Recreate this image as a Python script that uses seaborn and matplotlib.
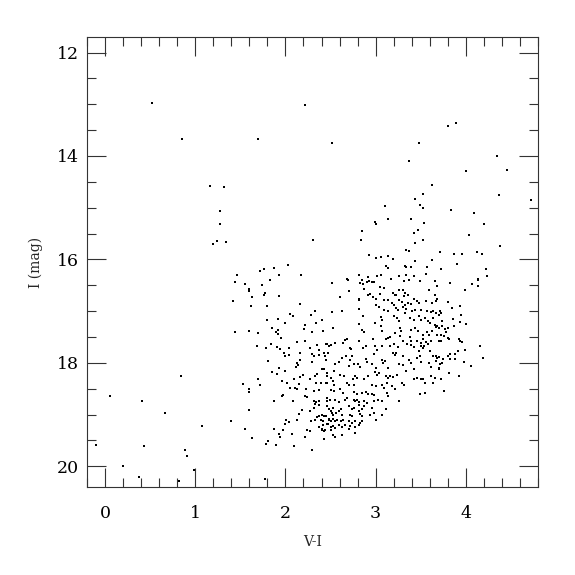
import pandas as pd
import matplotlib
matplotlib.use("Agg")
import matplotlib.pyplot as plt
import seaborn as sns
from matplotlib.ticker import MultipleLocator

# colour index V-I and I magnitude of each star
vi = [
    0.52, 0.85, 2.22, 1.70, 2.52,
    3.80, 3.89, 3.48, 3.37, 4.35, 4.00, 4.46, 3.62, 3.53, 3.44, 4.37, 3.49, 3.53, 3.84, 4.72,
    4.09, 3.39, 3.54, 4.20, 3.47, 3.43, 4.04, 3.53, 3.44, 4.38, 3.34, 3.37, 3.71, 3.87, 3.96,
    4.12, 4.18, 3.62, 3.44, 3.90, 3.32, 3.34, 3.39, 3.57, 3.72, 4.22, 3.34, 3.42, 3.56, 4.23, 4.14,
    1.16, 1.32, 1.27, 1.27, 1.20, 1.24, 1.34, 1.46, 1.44, 1.42, 1.44, 0.84, 0.06,
    0.41, 0.66, 1.07, 1.40, 1.60, 1.55, 1.63, 1.78, 1.81, 1.89, 1.87, 1.93, -0.10, 0.43, 0.89,
    0.91, 0.20, 0.99, 0.38, 0.82, 1.77,
    2.30, 2.84, 2.85, 2.99, 3.00, 3.10, 3.14,
    1.94, 1.97, 2.07, 2.09, 2.22, 2.24, 2.27, 2.43, 2.43, 2.29, 2.55,
    2.03, 1.87, 1.76, 1.72, 1.93, 2.17, 1.83, 1.55, 1.74, 1.60, 1.60, 1.77, 1.76, 1.63, 1.93,
    1.62, 1.80, 2.16, 2.33, 2.28, 2.05, 2.08, 1.92, 1.80, 2.00, 2.40, 2.34, 2.22, 1.85, 1.92,
    1.89, 2.21, 1.60, 1.70, 1.92, 2.29, 2.42, 1.95, 2.13, 2.22, 1.84, 1.69, 1.78, 1.91, 1.94,
    2.04, 2.27, 2.35, 2.45, 2.48,
    1.98, 2.00, 2.04, 2.16, 2.29, 2.32, 2.37, 2.43, 2.44, 2.37, 1.81, 2.16, 2.13, 2.14, 2.12,
    2.29, 2.45, 1.93, 1.85, 1.91, 2.00, 2.19, 2.16, 2.27, 2.35, 2.33, 2.46, 1.70, 1.53, 1.72,
    1.96, 2.02, 2.09, 2.15, 2.34, 2.39, 2.46, 1.60, 1.60, 2.05, 2.11, 2.13, 2.23, 2.32, 2.37,
    1.97, 1.96, 2.22, 2.24, 2.08, 2.32, 2.34, 2.37, 2.33, 2.37, 2.46, 2.32, 2.18, 2.15, 2.27,
    2.37, 2.40, 2.43, 2.45, 2.35, 2.33, 2.01, 1.99, 2.04, 2.13, 2.28, 2.39, 2.42, 2.48, 2.47,
    1.87, 2.37, 2.40, 2.44,
    2.93, 3.00, 3.06, 3.14, 3.19, 3.12, 3.14, 2.68, 2.69, 2.82, 2.85, 2.92, 2.93, 2.90, 2.96,
    2.98, 3.01, 3.06, 2.83, 2.86, 3.17, 3.26, 3.31, 3.37, 3.49, 2.52, 2.87, 3.05, 3.09, 3.59,
    3.68, 3.19, 3.21, 3.26, 3.30, 3.33, 3.36, 3.31, 3.23, 2.91, 2.94, 2.97, 3.00, 3.05, 3.09,
    2.81, 2.82, 2.70, 2.60, 3.14, 3.18, 3.20, 3.26, 3.29, 3.33, 3.36, 3.39, 3.42, 3.46, 3.48,
    3.56, 3.62, 3.68, 3.00, 3.04, 3.23, 3.25, 3.30, 3.34, 3.40, 3.44, 3.50, 3.57, 3.61, 3.64,
    3.67, 3.71, 2.82, 3.09, 3.14, 2.52, 2.63, 2.81, 2.86, 2.99, 3.06, 3.07, 3.20, 3.24, 3.26,
    3.33, 3.38, 3.42, 3.48, 3.50, 3.55, 3.58, 3.60, 3.64, 2.53, 2.85, 2.87, 3.06, 3.07, 3.16,
    3.21, 3.27, 3.28, 3.39, 3.44, 3.47, 3.52, 3.57, 3.59, 3.63, 3.66, 3.70, 2.68, 2.66, 2.97,
    2.81, 3.11, 3.14, 3.27, 3.30, 3.38, 3.39, 3.46, 3.50, 3.53, 3.56, 3.58, 3.61, 3.68, 3.70,
    2.46, 2.51, 2.55, 2.64, 2.72, 2.86, 2.99, 3.16, 3.20, 3.25, 3.39, 3.43, 3.50, 3.53,
    2.47, 2.63, 2.67, 2.73, 2.74, 2.72, 2.89, 2.98, 3.07, 3.02, 3.19, 3.21, 3.23, 3.30, 3.35,
    3.48, 3.49, 3.54, 3.60, 3.64, 3.68, 2.40, 2.43, 2.55, 2.59, 2.54, 2.71, 2.76, 2.80, 2.83,
    2.89, 2.90, 2.96, 3.00, 3.07, 3.08, 3.10, 3.14, 3.26, 3.30, 3.37, 3.39, 3.46, 3.50, 3.59,
    3.61, 3.70, 3.34, 3.43, 2.46, 2.50, 2.61, 2.65, 2.77, 2.79, 2.75, 2.87, 2.92, 2.99, 3.02,
    3.04, 3.11, 3.14, 3.16, 3.19, 3.24, 3.29, 3.31, 3.42, 3.46, 3.50, 3.55, 3.49, 2.45, 2.53,
    2.54, 2.68, 2.70, 2.76, 2.96, 3.00, 3.07, 3.09, 3.13, 3.18, 3.22, 2.50, 2.54, 2.60, 2.64,
    2.76, 2.79, 2.85, 2.89, 2.91, 2.96, 2.98, 3.13, 3.14, 3.26, 2.46, 2.49, 2.55, 2.59, 2.66,
    2.68, 2.76, 2.77, 2.79, 2.81, 2.87, 2.90, 2.98, 3.03, 3.07, 2.96, 3.11, 2.46, 2.48, 2.53,
    2.59, 2.70, 2.74, 2.76, 2.82, 2.85, 2.81, 2.87, 2.50, 2.52, 2.53, 2.56, 2.62, 2.63, 2.72,
    2.74, 2.83, 2.85, 2.94, 2.98, 3.00, 3.07, 2.48, 2.50, 2.53, 2.55, 2.57, 2.62, 2.64, 2.70,
    2.74, 2.77, 2.83, 2.85, 2.42, 2.46, 2.50, 2.53, 2.55, 2.59, 2.63, 2.66, 2.72, 2.77, 2.81,
    2.40, 2.50, 2.53, 2.63, 2.71, 2.77, 3.53, 3.61, 3.64, 3.55,
    4.14, 4.07, 4.14, 3.99, 3.66, 3.82, 3.66, 3.67, 3.80, 3.94, 3.85,
    3.72, 3.70, 3.95, 3.86, 3.94, 4.00, 3.74, 3.74, 3.68, 3.67, 3.87, 3.77, 3.80,
    3.78, 3.72, 3.76, 3.80, 3.81, 3.73, 3.92, 3.93, 3.96, 4.16, 3.91,
    3.88, 3.99, 3.82, 3.80, 3.67, 3.70, 3.75, 3.74, 3.82, 3.88, 3.98, 4.19, 4.06,
    3.67, 3.71, 3.70, 3.81, 3.92, 3.66, 3.73, 3.76,
]
imag = [
    12.97, 13.67, 13.01, 13.67, 13.74,
    13.43, 13.36, 13.74, 14.09, 14.01, 14.29, 14.27, 14.57, 14.73, 14.84, 14.76, 14.94, 15.01, 15.04, 14.86,
    15.10, 15.21, 15.29, 15.32, 15.43, 15.48, 15.52, 15.63, 15.68, 15.75, 15.81, 15.83, 15.86, 15.90, 15.89,
    15.86, 15.90, 16.02, 16.04, 16.09, 16.12, 16.14, 16.14, 16.15, 16.19, 16.19, 16.30, 16.33, 16.29, 16.33, 16.38,
    14.58, 14.60, 15.06, 15.32, 15.70, 15.65, 15.67, 16.31, 16.43, 16.81, 17.40, 18.25, 18.65,
    18.73, 18.97, 19.23, 19.12, 18.92, 19.27, 19.45, 19.56, 19.51, 19.58, 18.74, 19.37, 19.59, 19.61, 19.69,
    19.81, 19.99, 20.08, 20.21, 20.29, 20.24,
    15.63, 15.63, 15.46, 15.27, 15.31, 14.96, 15.21,
    19.44, 19.29, 19.38, 19.61, 19.44, 19.29, 19.31, 19.32, 19.48, 19.69, 19.43,
    16.11, 16.16, 16.19, 16.22, 16.31, 16.30, 16.39, 16.48, 16.50, 16.57, 16.62, 16.64, 16.68, 16.73, 16.70,
    16.91, 16.91, 16.86, 17.00, 17.07, 17.06, 17.10, 17.15, 17.18, 17.22, 17.18, 17.22, 17.27, 17.32, 17.36,
    17.40, 17.35, 17.38, 17.42, 17.45, 17.41, 17.39, 17.52, 17.60, 17.57, 17.63, 17.67, 17.71, 17.69, 17.73,
    17.72, 17.72, 17.65, 17.64, 17.68,
    17.81, 17.86, 17.84, 17.81, 17.83, 17.87, 17.76, 17.80, 17.87, 17.84, 17.97, 17.94, 18.00, 18.05, 18.08,
    17.99, 17.94, 18.10, 18.18, 18.22, 18.16, 18.24, 18.28, 18.31, 18.21, 18.25, 18.20, 18.31, 18.40, 18.43,
    18.35, 18.38, 18.31, 18.40, 18.38, 18.38, 18.38, 18.50, 18.56, 18.49, 18.49, 18.50, 18.50, 18.54, 18.52,
    18.62, 18.65, 18.65, 18.66, 18.73, 18.73, 18.76, 18.74, 18.79, 18.81, 18.74, 18.87, 18.92, 18.98, 18.94,
    19.02, 19.00, 19.03, 19.03, 19.05, 19.10, 19.10, 19.19, 19.14, 19.11, 19.13, 19.10, 19.12, 19.08, 19.19,
    19.28, 19.24, 19.27, 19.30,
    15.91, 15.97, 15.96, 15.93, 15.99, 16.12, 16.17, 16.37, 16.39, 16.31, 16.40, 16.34, 16.41, 16.44, 16.43,
    16.44, 16.33, 16.31, 16.46, 16.48, 16.38, 16.33, 16.41, 16.39, 16.42, 16.46, 16.57, 16.53, 16.55, 16.59,
    16.52, 16.64, 16.68, 16.60, 16.59, 16.64, 16.68, 16.71, 16.68, 16.68, 16.66, 16.73, 16.77, 16.67, 16.78,
    16.77, 16.78, 16.62, 16.72, 16.78, 16.84, 16.88, 16.79, 16.82, 16.88, 16.84, 16.86, 16.77, 16.81, 16.84,
    16.81, 16.84, 16.77, 16.88, 16.92, 16.94, 16.97, 16.92, 16.96, 16.99, 16.97, 16.97, 16.99, 17.01, 16.99,
    17.04, 16.99, 16.95, 16.97, 17.00, 17.02, 17.00, 17.24, 17.10, 17.23, 17.11, 17.18, 17.09, 17.13, 17.20,
    17.04, 17.13, 17.18, 17.09, 17.17, 17.13, 17.20, 17.23, 17.13, 17.33, 17.36, 17.41, 17.29, 17.39, 17.50,
    17.42, 17.32, 17.38, 17.36, 17.33, 17.38, 17.47, 17.40, 17.46, 17.39, 17.26, 17.33, 17.54, 17.55, 17.54,
    17.57, 17.54, 17.51, 17.49, 17.58, 17.50, 17.57, 17.58, 17.62, 17.54, 17.60, 17.63, 17.57, 17.47, 17.57,
    17.64, 17.65, 17.62, 17.62, 17.71, 17.71, 17.68, 17.68, 17.63, 17.70, 17.65, 17.69, 17.68, 17.72,
    17.81, 17.91, 17.87, 17.74, 17.87, 17.95, 17.68, 17.82, 17.67, 17.76, 17.80, 17.84, 17.81, 17.87, 17.63,
    17.78, 17.86, 17.67, 17.78, 17.87, 17.91, 18.12, 18.11, 18.02, 17.99, 18.16, 18.07, 18.02, 18.03, 18.08,
    17.92, 17.99, 18.03, 18.10, 17.95, 18.00, 17.97, 18.10, 18.03, 18.05, 17.95, 18.00, 17.91, 17.99, 18.00,
    18.08, 18.10, 18.16, 18.12, 18.26, 18.29, 18.23, 18.26, 18.25, 18.29, 18.32, 18.32, 18.26, 18.18, 18.23,
    18.20, 18.26, 18.29, 18.25, 18.27, 18.23, 18.39, 18.42, 18.31, 18.29, 18.31, 18.39, 18.61, 18.39, 18.36,
    18.42, 18.39, 18.42, 18.42, 18.42, 18.45, 18.42, 18.49, 18.39, 18.45, 18.50, 18.52, 18.55, 18.50, 18.58,
    18.57, 18.60, 18.58, 18.57, 18.61, 18.60, 18.63, 18.58, 18.65, 18.74, 18.68, 18.71, 18.71, 18.76, 18.71,
    18.68, 18.71, 18.74, 18.72, 18.76, 18.74, 18.77, 18.74, 18.71, 18.74, 18.87, 18.90, 18.84, 18.89, 18.87,
    18.94, 18.84, 18.90, 18.87, 18.81, 18.90, 18.94, 18.84, 18.94, 18.97, 19.00, 18.96, 18.90, 19.00, 19.00,
    19.03, 18.98, 19.03, 19.00, 18.96, 19.10, 19.00, 19.10, 19.13, 19.08, 19.13, 19.10, 19.13, 19.10, 19.13,
    19.16, 19.12, 19.16, 19.13, 19.21, 19.19, 19.24, 19.23, 19.26, 19.21, 19.24, 19.21, 19.23, 19.24, 19.21,
    19.30, 19.29, 19.39, 19.39, 19.28, 19.35, 18.32, 18.26, 18.39, 18.58,
    16.39, 16.47, 16.51, 16.60, 16.41, 16.46, 16.68, 16.81, 16.82, 16.91, 16.94,
    17.04, 17.07, 17.08, 17.15, 17.21, 17.24, 17.20, 17.28, 17.29, 17.31, 17.29, 17.35, 17.33,
    17.40, 17.46, 17.49, 17.52, 17.54, 17.57, 17.53, 17.58, 17.60, 17.68, 17.78,
    17.82, 17.76, 17.82, 17.87, 17.87, 17.89, 17.92, 18.00, 17.92, 17.92, 17.98, 17.91, 18.07,
    17.97, 18.03, 18.11, 18.19, 18.25, 18.30, 18.31, 18.54,
]

df = pd.DataFrame({"V-I": vi, "I": imag})

sns.set_style("ticks")
plt.rcParams["font.family"] = ["DejaVu Serif"]

fig = plt.figure(figsize=(5.75, 5.75), dpi=100)
ax = fig.add_axes([87 / 575, 88 / 575, 451 / 575, 450 / 575])

sns.scatterplot(data=df, x="V-I", y="I", ax=ax, color="black", marker="s",
                s=3, linewidth=0, legend=False)

ax.set_xlim(-0.2, 4.8)
ax.set_ylim(20.4, 11.7)

ax.xaxis.set_major_locator(MultipleLocator(1))
ax.xaxis.set_minor_locator(MultipleLocator(0.2))
ax.yaxis.set_major_locator(MultipleLocator(2))
ax.yaxis.set_minor_locator(MultipleLocator(0.5))

ax.tick_params(which="both", direction="in", top=True, right=True,
               width=0.8, colors="#333333", labelcolor="black")
ax.tick_params(which="major", length=13.5, labelsize=12.5)
ax.tick_params(axis="x", which="major", pad=13)
ax.tick_params(axis="y", which="major", pad=6)
ax.tick_params(which="minor", length=6.7)

for spine in ax.spines.values():
    spine.set_linewidth(0.8)
    spine.set_color("#333333")

ax.set_xlabel("V-I", fontsize=10, labelpad=9)
ax.set_ylabel("I (mag)", fontsize=10, labelpad=10)

plt.savefig("out.png", dpi=100)
